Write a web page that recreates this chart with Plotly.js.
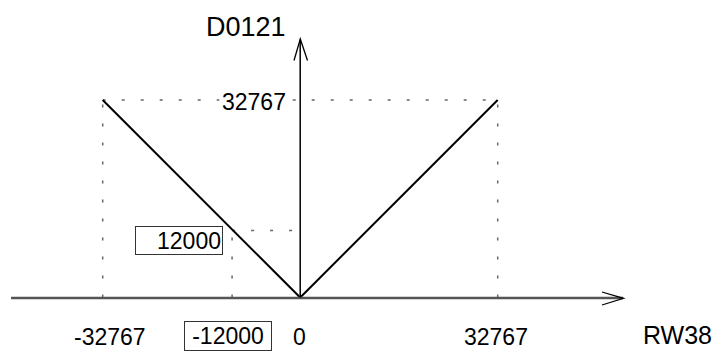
<!DOCTYPE html>
<html>
<head>
<meta charset="utf-8">
<script src="https://cdn.plot.ly/plotly-3.0.1.min.js"></script>
<style>html,body{margin:0;padding:0;background:#fff;}#chart{width:723px;height:352px;}</style>
</head>
<body>
<div id="chart"></div>
<script>
// ---- data ----
const vX = [-32767, 0, 32767];
const vY = [32767, 0, 32767];
const maxVal = 32767;
const guideX = -11300;   // position of the -12000 guide
const guideY = 11100;    // position of the 12000 guide
const xTickVals = [-32767, 0, 32767];
const xTickText = ['-32767', '0', '32767'];
const xMarkText = '-12000';
const yMarkText = '12000';
const yValText = '32767';
const xTitle = 'RW38';
const yTitle = 'D0121';

// ---- geometry ----
const W = 723, H = 352;
const X0PX = 300.2, Y0PX = 297.5, K = 197.5 / 32767;
const dx = px => (px - X0PX) / K;
const dy = py => (Y0PX - py) / K;

const FONT = 'Liberation Sans, Arial, sans-serif';
const dotted = {color: '#666', width: 1.5, dash: '3px,16px'};

const traces = [
  {x: [-maxVal, maxVal], y: [maxVal, maxVal], mode: 'lines', line: dotted},
  {x: [-maxVal, -maxVal], y: [0, maxVal], mode: 'lines', line: dotted},
  {x: [maxVal, maxVal], y: [0, maxVal], mode: 'lines', line: dotted},
  {x: [guideX, 0], y: [guideY, guideY], mode: 'lines', line: dotted},
  {x: [guideX, guideX], y: [0, guideY], mode: 'lines', line: dotted},
  {x: vX, y: vY, mode: 'lines', line: {color: '#000', width: 2}}
];

const shapes = [
  {type: 'line', xref: 'x', yref: 'y', x0: dx(11), x1: dx(623), y0: dy(298), y1: dy(298), line: {color: '#555', width: 2.5}},
  {type: 'path', xref: 'x', yref: 'y', path: `M ${dx(602)},${dy(292)} L ${dx(623.5)},${dy(298.3)} L ${dx(602)},${dy(305)}`, line: {color: '#000', width: 1.3}},
  {type: 'line', xref: 'x', yref: 'y', x0: 0, x1: 0, y0: 0, y1: dy(39.5), line: {color: '#000', width: 1.5}},
  {type: 'path', xref: 'x', yref: 'y', path: `M ${dx(294)},${dy(60.5)} L ${dx(300.3)},${dy(39)} L ${dx(307.5)},${dy(60.5)}`, line: {color: '#000', width: 1.3}}
];

const tickShift = [7, -1, -2];
const annotations = [];
xTickVals.forEach((v, i) => {
  annotations.push({x: v, y: dy(336.5), xref: 'x', yref: 'y', text: xTickText[i], showarrow: false,
    xanchor: 'center', yanchor: 'middle', xshift: tickShift[i], font: {family: FONT, size: 23, color: '#000'}});
});
annotations.push({x: guideX, y: dy(335.7), xref: 'x', yref: 'y', text: xMarkText, showarrow: false,
  xanchor: 'center', yanchor: 'middle', xshift: -3.6, width: 84, height: 26, align: 'center',
  bordercolor: '#333', borderwidth: 1, borderpad: 1, bgcolor: '#fff',
  font: {family: FONT, size: 23, color: '#000'}});
annotations.push({x: guideX, y: guideY, xref: 'x', yref: 'y', text: yMarkText, showarrow: false,
  xanchor: 'right', yanchor: 'middle', xshift: -9, yshift: -10, width: 84, height: 25, align: 'right',
  bordercolor: '#333', borderwidth: 1, borderpad: 1, bgcolor: '#fff',
  font: {family: FONT, size: 23, color: '#000'}});
annotations.push({x: 0, y: maxVal, xref: 'x', yref: 'y', text: yValText, showarrow: false,
  xanchor: 'right', yanchor: 'middle', xshift: -11, yshift: -1.5, bgcolor: '#fff', borderpad: 2,
  font: {family: FONT, size: 23, color: '#000'}});
annotations.push({x: dx(246), y: dy(27), xref: 'x', yref: 'y', text: yTitle, showarrow: false,
  xanchor: 'center', yanchor: 'middle', font: {family: FONT, size: 27, color: '#000'}});
annotations.push({x: dx(677), y: dy(334.5), xref: 'x', yref: 'y', text: xTitle, showarrow: false,
  xanchor: 'center', yanchor: 'middle', borderpad: 0, font: {family: FONT, size: 25, color: '#000'}});

const layout = {
  width: W, height: H,
  margin: {l: 0, r: 0, t: 0, b: 0, pad: 0},
  paper_bgcolor: '#fff', plot_bgcolor: '#fff',
  showlegend: false,
  xaxis: {visible: false, range: [dx(0), dx(W)], fixedrange: true},
  yaxis: {visible: false, range: [dy(H), dy(0)], fixedrange: true},
  shapes: shapes,
  annotations: annotations
};

Plotly.newPlot('chart', traces, layout, {staticPlot: true, displayModeBar: false});
</script>
</body>
</html>
